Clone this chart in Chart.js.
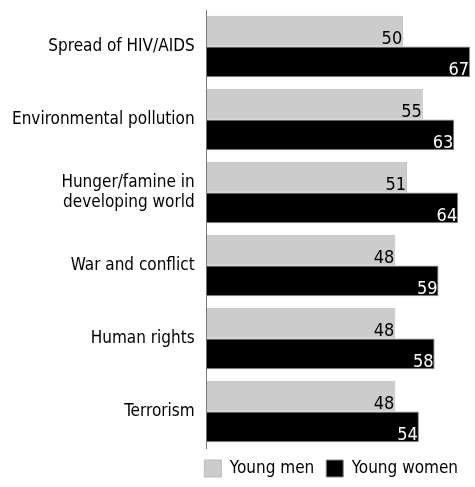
<!DOCTYPE html>
<html>
<head>
<meta charset="utf-8">
<script src="https://cdn.jsdelivr.net/npm/chart.js@4"></script>
<style>
  html, body { margin: 0; padding: 0; background: #fff; }
  #wrap { width: 475px; height: 487px; }
</style>
</head>
<body>
<div id="wrap"><canvas id="chart"></canvas></div>
<script>
const categories = [
    'Spread of HIV/AIDS',
    'Environmental pollution',
    ['Hunger/famine in', 'developing world'],
    'War and conflict',
    'Human rights',
    'Terrorism'
];
const youngMen = [50, 55, 51, 48, 48, 48];
const youngWomen = [67, 63, 64, 59, 58, 54];

const FONT = '"Liberation Sans Narrow", "DejaVu Sans Condensed", "Arial Narrow", sans-serif';

const barValues = {
    id: 'barValues',
    afterDatasetsDraw(chart) {
        const c = chart.ctx;
        c.save();
        c.font = '18px ' + FONT;
        c.textAlign = 'right';
        c.textBaseline = 'bottom';
        chart.data.datasets.forEach((ds, i) => {
            const meta = chart.getDatasetMeta(i);
            meta.data.forEach((bar, j) => {
                c.fillStyle = i === 0 ? '#000' : '#fff';
                c.fillText(ds.data[j], bar.x - 1, bar.y + bar.height / 2 + 2);
            });
        });
        c.restore();
    }
};

const ctx = document.getElementById('chart').getContext('2d');
const chart = new Chart(ctx, {
    type: 'bar',
    data: {
        labels: categories,
        datasets: [{
            label: 'Young men',
            data: youngMen,
            backgroundColor: '#cccccc',
            borderColor: '#bbbbbb',
            borderWidth: 1,
            borderSkipped: 'left'
        }, {
            label: 'Young women',
            data: youngWomen,
            backgroundColor: '#000000',
            borderColor: '#888888',
            borderWidth: 1,
            borderSkipped: 'left'
        }]
    },
    options: {
        indexAxis: 'y',
        responsive: true,
        maintainAspectRatio: false,
        animation: false,
        layout: { padding: { top: 10, right: 5, left: 0, bottom: 0 } },
        datasets: {
            bar: { categoryPercentage: 0.84, barPercentage: 1.0 }
        },
        scales: {
            x: {
                min: 0,
                max: 67,
                display: false
            },
            y: {
                grid: { display: false, drawTicks: false },
                border: { display: true, color: '#777777', width: 1 },
                ticks: {
                    color: '#000',
                    padding: 12,
                    font: { family: FONT, size: 17 }
                },
                afterFit(scale) {
                    scale.paddingTop = 0;
                    scale.paddingBottom = 0;
                }
            }
        },
        plugins: {
            legend: {
                position: 'bottom',
                align: 'end',
                labels: {
                    color: '#000',
                    boxWidth: 17,
                    boxHeight: 17,
                    padding: 12,
                    font: { family: FONT, size: 17 }
                }
            },
            tooltip: { enabled: false }
        }
    },
    plugins: [barValues]
});
</script>
</body>
</html>
